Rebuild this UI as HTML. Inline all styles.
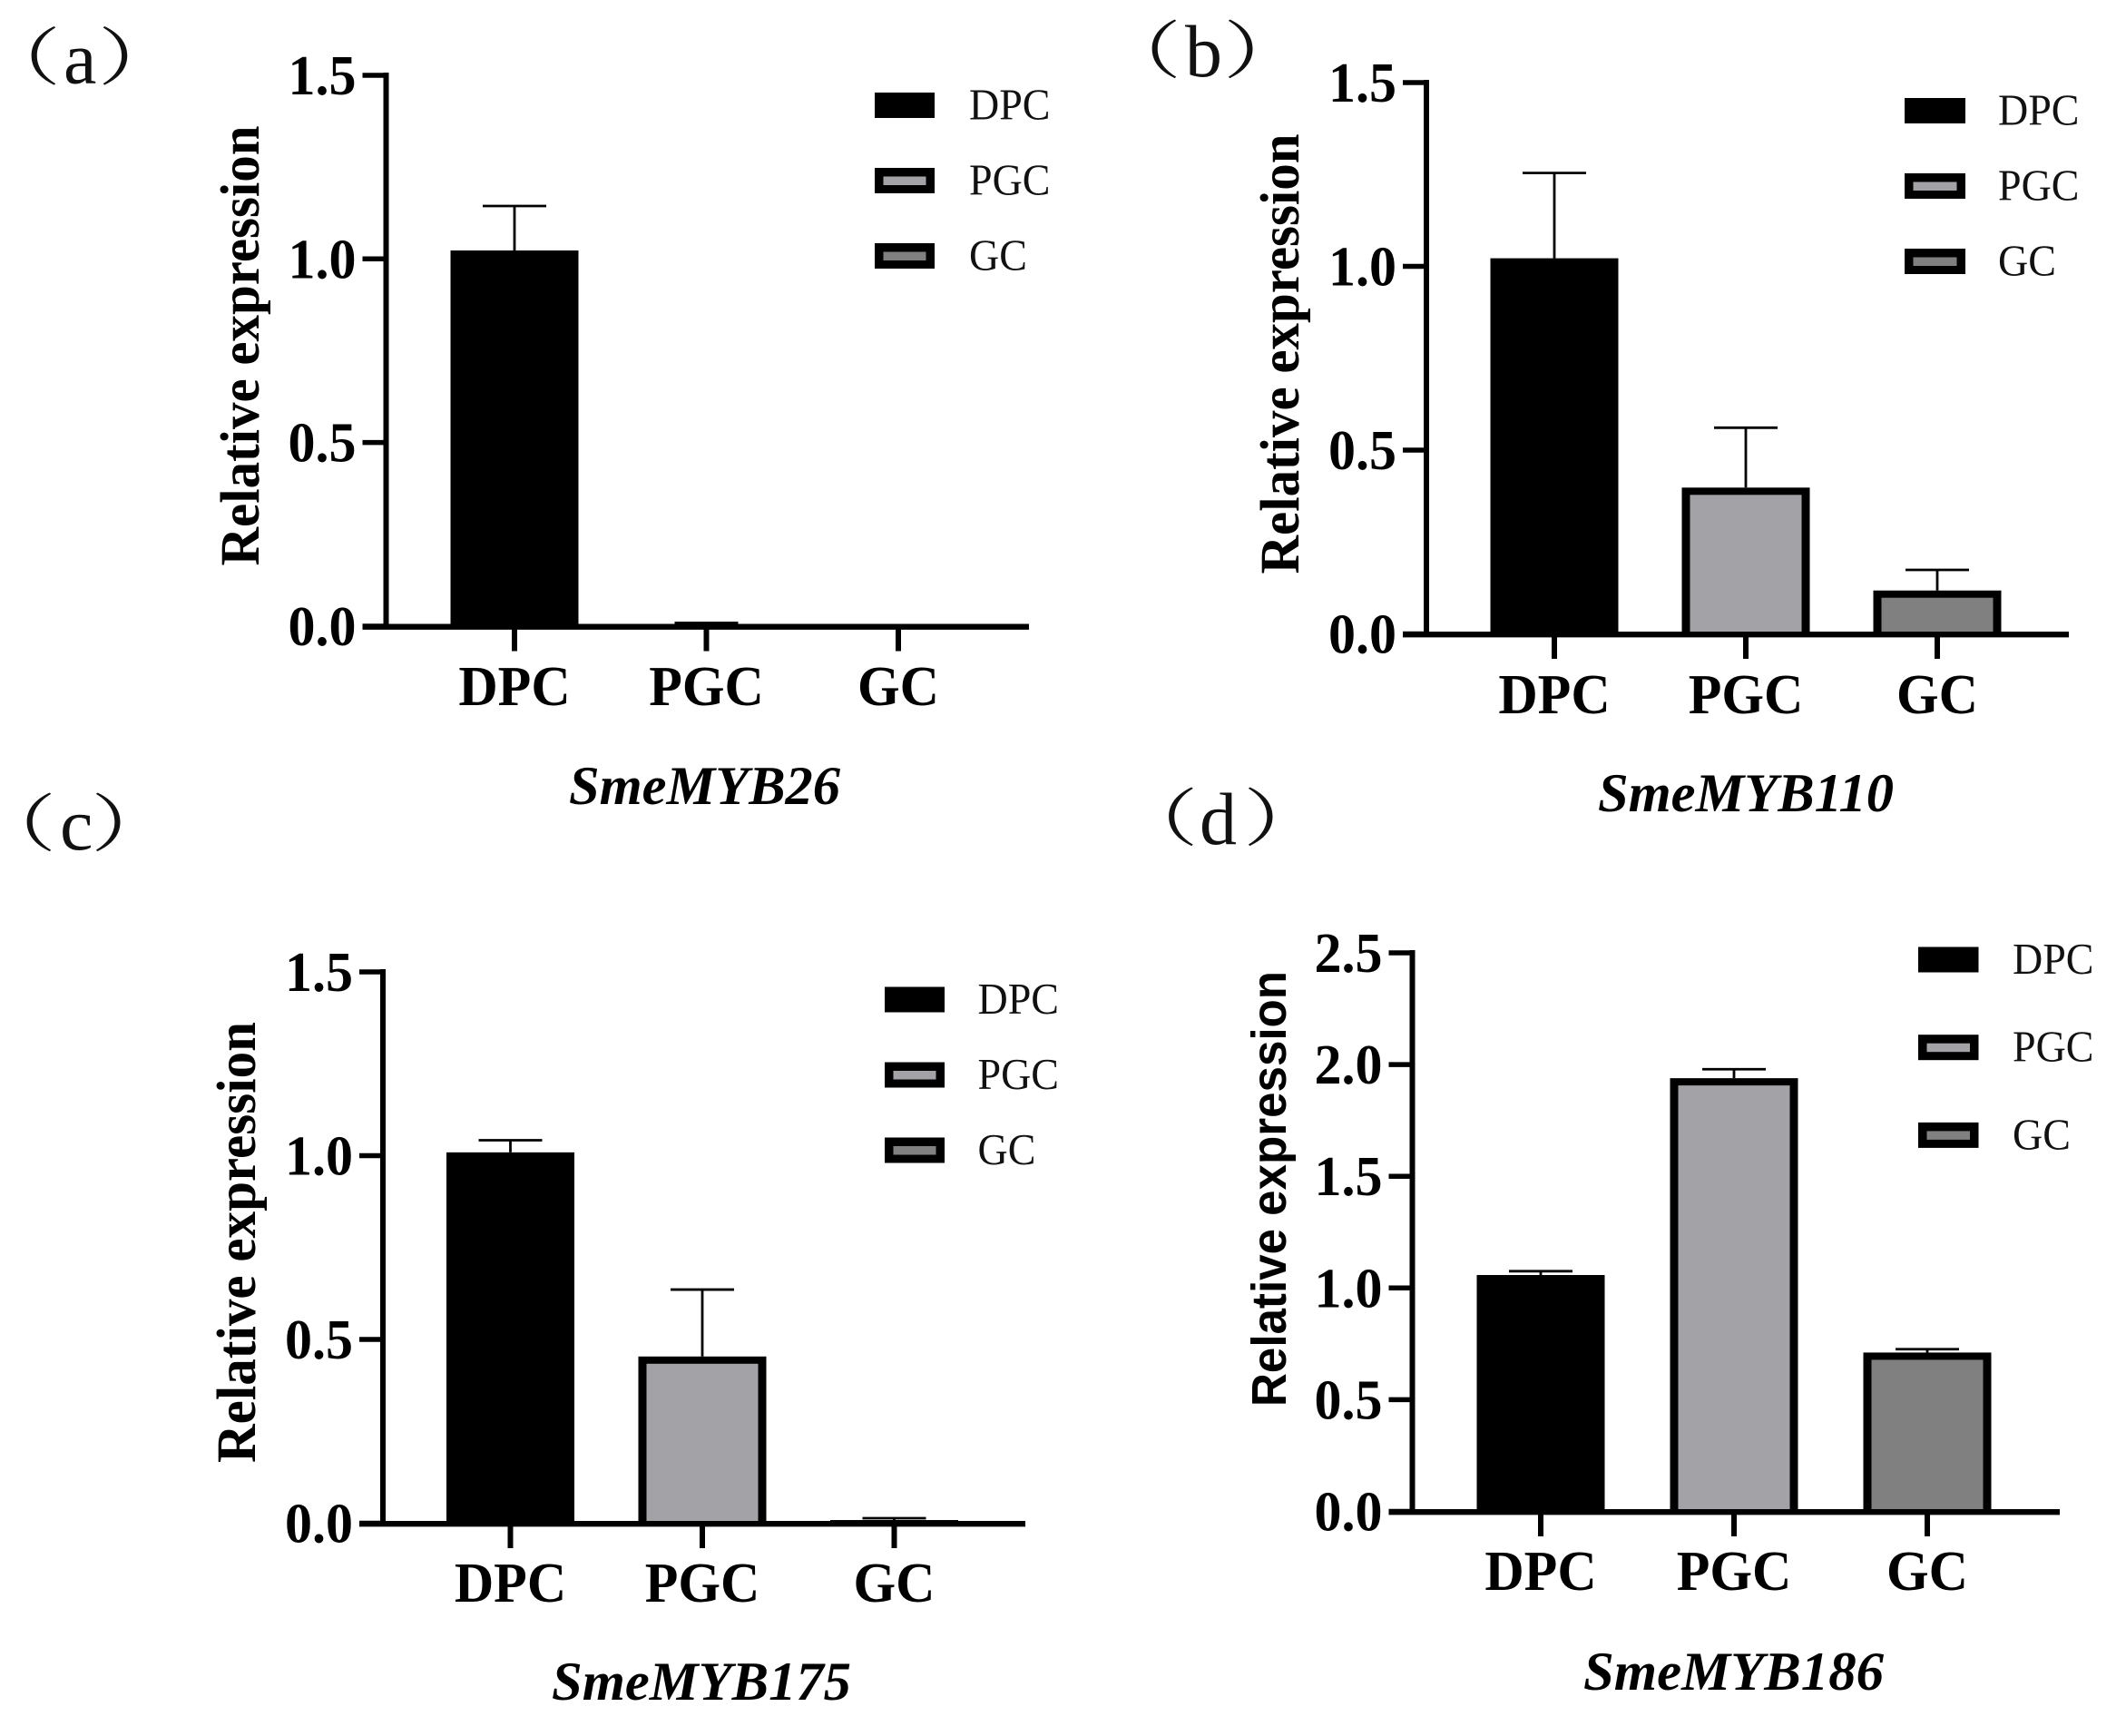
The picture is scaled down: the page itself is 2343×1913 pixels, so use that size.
<!DOCTYPE html>
<html lang="en">
<head>
<meta charset="utf-8">
<title>Relative expression of SmeMYB genes</title>
<style>
html,body{margin:0;padding:0;background:#fff;}
svg{display:block;}
</style>
</head>
<body>
<svg id="figure" xmlns="http://www.w3.org/2000/svg" width="2343" height="1913" viewBox="0 0 2343 1913"></svg>
<script>
const categories = ["DPC", "PGC", "GC"];
const fillColors = ["#000000", "#a3a3a7", "#808080"];

const tickLabels15 = ["0.0", "0.5", "1.0", "1.5"];
const tickLabels25 = ["0.0", "0.5", "1.0", "1.5", "2.0", "2.5"];

const myb26Values = [1.023, 0.003, 0.002];
const myb26Errors = [0.121, 0.006, 0];
const myb110Values = [1.022, 0.398, 0.118];
const myb110Errors = [0.232, 0.163, 0.056];
const myb175Values = [1.009, 0.4536, 0.0086];
const myb175Errors = [0.033, 0.182, 0.005];
const myb186Values = [1.058, 1.939, 0.711];
const myb186Errors = [0.017, 0.04, 0.015];

const SVG_NS = "http://www.w3.org/2000/svg";
const root = document.getElementById("figure");
const SERIF = '"Liberation Serif", "Noto Serif CJK SC", serif';
const SANS = '"Liberation Sans", sans-serif';

function make(tag, parent, attrs) {
  const el = document.createElementNS(SVG_NS, tag);
  for (const key in attrs) el.setAttribute(key, attrs[key]);
  parent.appendChild(el);
  return el;
}

function drawPanel(p) {
  const g = make("g", root, {});
  
  

  const yScale = v => p.zeroY - v * p.unit;
  const xScale = i => p.firstX + i * p.step;
  const barWidth = 141;
  const capWidth = 70;

  const parenOpen = make("text", g, {
    transform: "translate(" + (p.parenLeft - 60) + "," + (p.labelY - 4) + ") scale(1.35,1)",
    "font-family": SERIF, "font-size": 69, fill: "#111"
  });
  parenOpen.textContent = "（";
  
  

  const panelLetter = make("text", g, {
    x: p.letterX, y: p.labelY, "font-family": SERIF, "font-size": 82, fill: "#111"
  });
  panelLetter.textContent = p.key;
  
  

  const parenClose = make("text", g, {
    transform: "translate(" + (p.parenRight - 34) + "," + (p.labelY - 4) + ") scale(1.35,1)",
    "font-family": SERIF, "font-size": 69, fill: "#111"
  });
  parenClose.textContent = "）";
  
  

  // bars and error bars
  categories.forEach((cat, i) => {
    const cx = xScale(i);
    const top = yScale(p.values[i]);
    const capY = yScale(p.values[i] + p.errors[i]);

    if (p.errors[i] > 0) {
      const stem = make("line", g, {
        x1: cx, x2: cx, y1: top, y2: capY, stroke: "#000", "stroke-width": 2.8
      });
      
      
      const cap = make("line", g, {
        x1: cx - capWidth / 2, x2: cx + capWidth / 2, y1: capY, y2: capY, stroke: "#000", "stroke-width": 2.8
      });
      
      
    }

    const bar = make("rect", g, {
      x: cx - barWidth / 2, y: top, width: barWidth, height: Math.max(p.zeroY - top, 0), fill: "#000"
    });
    
    

    if (i > 0 && p.zeroY - top > 8) {
      const inner = make("rect", g, {
        x: cx - barWidth / 2 + 9, y: top + 8, width: barWidth - 18,
        height: p.zeroY - top - 8, fill: fillColors[i]
      });
      
      
    }
  });

  // y axis
  const yAxis = make("line", g, {
    x1: p.axisX, x2: p.axisX, y1: yScale(p.yMax) - 3, y2: p.zeroY + 3, stroke: "#000", "stroke-width": 6
  });
  
  

  p.ticks.forEach(label => {
    const ty = yScale(parseFloat(label));
    const tick = make("line", g, {
      x1: p.axisX - 26, x2: p.axisX, y1: ty, y2: ty, stroke: "#000", "stroke-width": 5.5
    });
    
    
    const text = make("text", g, {
      transform: "translate(" + (p.axisX - 33) + "," + (ty + 21) + ") scale(1,1.05)",
      "text-anchor": "end", "font-family": SERIF, "font-weight": "bold", "font-size": 60, fill: "#000"
    });
    text.textContent = label;
    
    
  });

  // x axis
  const xAxis = make("line", g, {
    x1: p.axisX - 26, x2: p.xEnd, y1: p.zeroY + 0.7, y2: p.zeroY + 0.7, stroke: "#000", "stroke-width": 6.3
  });
  
  

  categories.forEach((cat, i) => {
    const tx = xScale(i);
    const tick = make("line", g, {
      x1: tx, x2: tx, y1: p.zeroY, y2: p.zeroY + 27.5, stroke: "#000", "stroke-width": 6
    });
    
    
    const text = make("text", g, {
      transform: "translate(" + tx + "," + p.xLabelY + ") scale(1,1.05)",
      "text-anchor": "middle", "font-family": SERIF, "font-weight": "bold", "font-size": 60, fill: "#000"
    });
    text.textContent = cat;
    
    
  });

  // y axis title
  const yTitle = make("text", g, {
    transform: "translate(" + p.yTitleX + "," + p.yTitleY + ") rotate(-90)",
    "text-anchor": "middle",
    "font-family": p.yTitleSans ? SANS : SERIF,
    "font-weight": "bold",
    "font-size": p.yTitleSans ? 54 : 61,
    textLength: p.yTitleLen,
    lengthAdjust: "spacingAndGlyphs",
    fill: "#000"
  });
  yTitle.textContent = "Relative expression";
  
  

  // gene title
  const title = make("text", g, {
    x: p.titleX, y: p.titleY, "font-family": SERIF, "font-weight": "bold",
    "font-style": "italic", "font-size": 60, textLength: p.titleLen,
    lengthAdjust: "spacingAndGlyphs", fill: "#000"
  });
  title.textContent = p.gene;
  
  

  // legend
  categories.forEach((cat, i) => {
    const ly = p.legendY + i * p.legendStep;
    const swatch = make("rect", g, {
      x: p.legendX, y: ly, width: p.legendW, height: 28, fill: "#000"
    });
    
    
    if (i > 0) {
      const inner = make("rect", g, {
        x: p.legendX + 9.5, y: ly + 9.5, width: p.legendW - 19, height: 9.5, fill: fillColors[i]
      });
      
      
    }
    const label = make("text", g, {
      transform: "translate(" + p.legendTextX + "," + (ly + 29.5) + ") scale(1,1.05)",
      "font-family": SERIF, "font-size": 46, fill: "#111"
    });
    label.textContent = cat;
    
    
  });
}

drawPanel({
  key: "a", gene: "SmeMYB26", values: myb26Values, errors: myb26Errors, ticks: tickLabels15, yMax: 1.5,
  axisX: 425.5, zeroY: 690, unit: 404.7, firstX: 567, step: 211.5, xEnd: 1134,
  xLabelY: 777, yTitleX: 285, yTitleY: 381, yTitleLen: 485,
  titleX: 627, titleY: 886, titleLen: 299,
  legendX: 964, legendY: 102, legendW: 66, legendStep: 83, legendTextX: 1068,
  parenLeft: 34, letterX: 70, parenRight: 141.7, labelY: 91.5
});
drawPanel({
  key: "b", gene: "SmeMYB110", values: myb110Values, errors: myb110Errors, ticks: tickLabels15, yMax: 1.5,
  axisX: 1572, zeroY: 698.5, unit: 405, firstX: 1713, step: 211, xEnd: 2280,
  xLabelY: 786, yTitleX: 1431, yTitleY: 390, yTitleLen: 485,
  titleX: 1761, titleY: 894, titleLen: 326,
  legendX: 2099, legendY: 108, legendW: 67, legendStep: 83, legendTextX: 2202,
  parenLeft: 1269, letterX: 1306, parenRight: 1382, labelY: 84
});
drawPanel({
  key: "c", gene: "SmeMYB175", values: myb175Values, errors: myb175Errors, ticks: tickLabels15, yMax: 1.5,
  axisX: 422, zeroY: 1678.5, unit: 405, firstX: 562.5, step: 211.5, xEnd: 1130,
  xLabelY: 1765, yTitleX: 281, yTitleY: 1369, yTitleLen: 486,
  titleX: 608, titleY: 1873, titleLen: 330,
  legendX: 975, legendY: 1087.5, legendW: 66, legendStep: 83, legendTextX: 1077.5,
  parenLeft: 29, letterX: 66, parenRight: 134, labelY: 936
});
drawPanel({
  key: "d", gene: "SmeMYB186", values: myb186Values, errors: myb186Errors, ticks: tickLabels25, yMax: 2.5,
  axisX: 1556.5, zeroY: 1665.5, unit: 246.2, firstX: 1698, step: 213, xEnd: 2270,
  xLabelY: 1752, yTitleX: 1417, yTitleY: 1310, yTitleLen: 480, yTitleSans: true,
  titleX: 1745, titleY: 1862, titleLen: 331,
  legendX: 2114, legendY: 1043.5, legendW: 66.5, legendStep: 96.7, legendTextX: 2218,
  parenLeft: 1287.5, letterX: 1322, parenRight: 1404, labelY: 930
});
</script>
</body>
</html>
